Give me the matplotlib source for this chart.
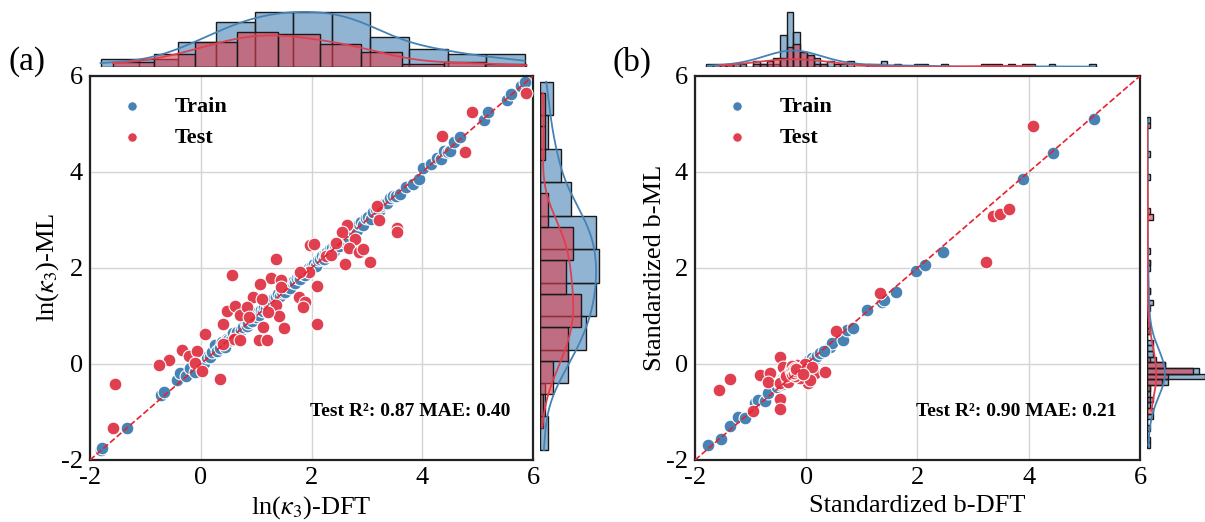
import matplotlib
matplotlib.use("Agg")
import matplotlib.pyplot as plt
import seaborn as sns

plt.rcParams["font.family"] = ["Liberation Serif", "DejaVu Serif"]
plt.rcParams["mathtext.fontset"] = "stix"
plt.rcParams["axes.unicode_minus"] = False

TRAIN_COLOR = "#4682B4"
TEST_COLOR = "#DF3F4F"
LINE_COLOR = "#E8212E"

# ---- panel (a): ln(kappa3) ----
train_a_x = [-1.81, -1.78, -1.34, -0.72, -0.67, -0.43, -0.37, -0.27, -0.19, -0.10, -0.02, 0.05,
             0.11, 0.17, 0.20, 0.26, 0.30, 0.35, 0.38, 0.44, 0.47, 0.50, 0.55, 0.59, 0.63, 0.65, 0.72, 0.77,
             0.81, 0.84, 0.86, 0.90, 0.93, 0.96, 1.00, 1.03, 1.06, 1.09, 1.12, 1.15, 1.18, 1.21, 1.24, 1.27,
             1.30, 1.33, 1.36, 1.40, 1.43, 1.46,
             1.50, 1.53, 1.56, 1.59, 1.62, 1.65, 1.68, 1.71, 1.74, 1.77, 1.80, 1.83, 1.86, 1.89, 1.92, 1.95,
             1.98, 2.01, 2.05, 2.08, 2.11, 2.15,
             2.19, 2.22, 2.25, 2.28, 2.31, 2.34, 2.37, 2.40, 2.43, 2.46, 2.49, 2.52, 2.55, 2.58, 2.61, 2.64,
             2.67, 2.70, 2.73, 2.76, 2.79, 2.81, 2.83, 2.85,
             2.89, 2.93, 2.98, 3.02, 3.07, 3.11, 3.16, 3.21, 3.26, 3.31, 3.36, 3.42, 3.47, 3.52,
             3.60, 3.71, 3.84, 3.95, 4.02, 4.15,
             4.27, 4.33, 4.40, 4.46, 4.51, 4.57, 4.69,
             5.11, 5.18, 5.53, 5.60, 5.78, 5.85]
train_a_y = [-1.79, -1.74, -1.33, -0.65, -0.58, -0.33, -0.19, -0.26, -0.09, -0.16, 0.03, 0.02,
             0.14, 0.14, 0.24, 0.40, 0.28, 0.33, 0.45, 0.36, 0.52, 0.50, 0.49, 0.64, 0.60, 0.67, 0.70, 0.78,
             0.86, 0.80, 0.85, 0.93, 0.89, 1.01, 0.97, 1.08, 1.02, 1.13, 1.10, 1.19, 1.14, 1.26, 1.22, 1.33,
             1.27, 1.37, 1.40, 1.46, 1.41, 1.51,
             1.56, 1.51, 1.60, 1.64, 1.58, 1.70, 1.73, 1.68, 1.79, 1.81, 1.77, 1.87, 1.91, 1.85, 1.96, 1.99,
             1.96, 2.05, 2.09, 2.04, 2.16, 2.19,
             2.24, 2.19, 2.30, 2.33, 2.28, 2.39, 2.41, 2.36, 2.48, 2.52, 2.45, 2.57, 2.62, 2.55, 2.66, 2.71,
             2.63, 2.76, 2.79, 2.72, 2.84, 2.87, 2.79, 2.91,
             2.95, 2.90, 3.04, 3.07, 3.03, 3.16, 3.22, 3.18, 3.30, 3.34, 3.35, 3.45, 3.49, 3.51,
             3.54, 3.68, 3.76, 3.85, 4.08, 4.17,
             4.30, 4.28, 4.43, 4.42, 4.44, 4.63, 4.72,
             5.08, 5.26, 5.51, 5.63, 5.80, 5.88]
test_a_x = [5.88, 4.90, 4.36, 4.78, 3.19, 3.21, 3.55, 3.55, 2.64, 2.55,
            2.79, 2.67, 2.85, 2.93, 3.06, 2.60, 2.27, 1.98, 2.05, 1.96,
            2.10, 2.10, 1.36, 0.56, 1.27, 1.07, 1.45, 1.45, 0.95, 1.10,
            1.36, 1.42, 1.51, 1.12, 1.06, 1.19, 1.77, 1.89, 1.85, 1.80,
            0.47, 0.62, 0.70, 0.84, 0.41, 0.60, 0.71, 0.41, 0.08, -0.34,
            -0.22, -0.07, -0.10, 0.03, 0.35, -0.57, -0.75, -1.55, -1.59,
            0.88, 1.22, 2.35, 2.45]
test_a_y = [5.65, 5.26, 4.75, 4.42, 3.29, 2.99, 2.83, 2.74, 2.90, 2.76,
            2.60, 2.41, 2.34, 2.40, 2.13, 2.08, 2.26, 2.48, 2.49, 1.92,
            1.63, 0.83, 2.19, 1.85, 1.79, 1.66, 1.74, 1.61, 1.40, 1.35,
            1.22, 0.99, 0.74, 0.78, 0.51, 0.51, 1.39, 1.30, 1.19, 1.92,
            1.11, 1.21, 1.03, 1.18, 0.83, 0.53, 0.51, 0.41, 0.62, 0.29,
            0.17, 0.27, 0.03, -0.15, -0.31, 0.08, -0.03, -0.42, -1.33,
            0.98, 1.08, 2.28, 2.52]

# ---- panel (b): standardized b ----
train_b_x = [-1.77, -1.53, -1.37, -1.22, -1.10, -0.93, -0.87, -0.75, -0.68, 0.43, 0.46, 0.66,
             0.74, 0.84, 1.10, 1.36, 1.40, 1.62, 1.98, 2.13, 2.46, 3.89, 4.44, 5.17,
             -0.52, -0.47,
             -0.44, -0.43, -0.42, -0.41, -0.40, -0.39, -0.38, -0.37, -0.37, -0.36, -0.35, -0.35, -0.34,
             -0.33, -0.32, -0.32, -0.31, -0.30, -0.30, -0.29, -0.28, -0.28, -0.27, -0.27, -0.26, -0.25,
             -0.25, -0.24, -0.24, -0.23, -0.23, -0.22, -0.22,
             -0.20, -0.19, -0.18, -0.17, -0.15, -0.14, -0.13, -0.12, -0.11, -0.10,
             -0.07, -0.04, -0.01, 0.02, 0.05, 0.08, 0.11, 0.14, 0.19, 0.25, 0.32]
train_b_y = [-1.69, -1.57, -1.29, -1.10, -1.12, -0.82, -0.75, -0.78, -0.61, 0.36, 0.44, 0.50,
             0.71, 0.76, 1.13, 1.30, 1.33, 1.51, 1.94, 2.06, 2.34, 3.85, 4.39, 5.10,
             -0.48, -0.44,
             -0.38, -0.41, -0.30, -0.36, -0.33, -0.28, -0.35, -0.31, -0.25, -0.29, -0.33, -0.22, -0.27,
             -0.24, -0.30, -0.19, -0.26, -0.22, -0.28, -0.20, -0.25, -0.17, -0.23, -0.21, -0.18, -0.24,
             -0.20, -0.16, -0.22, -0.19, -0.21, -0.18, -0.15,
             -0.19, -0.14, -0.21, -0.12, -0.17, -0.10, -0.15, -0.08, -0.13, -0.06,
             -0.05, -0.09, 0.02, -0.03, 0.08, 0.03, 0.12, 0.09, 0.17, 0.22, 0.28]
test_b_x = [4.07, 3.23, 3.35, 3.49, 3.65, 1.33, 0.53, -0.48, -1.37, -1.56,
            -0.83, -0.65, -0.68, -0.95, -0.48, -0.48, -0.47, -0.41, -0.32, -0.23,
            -0.17, -0.14, -0.08, 0.01, 0.04, 0.10, 0.16, 0.33, -0.11, -0.20,
            -0.29, -0.02, 0.10, 0.07, -0.36, -0.28, -0.27, -0.26, -0.25, -0.24,
            -0.22, -0.21, -0.19, -0.18, -0.05]
test_b_y = [4.96, 2.13, 3.09, 3.12, 3.22, 1.47, 0.69, 0.14, -0.31, -0.54,
            -0.23, -0.19, -0.38, -0.97, -0.73, -0.94, -0.40, -0.06, -0.37, -0.13,
            -0.02, -0.19, -0.09, -0.16, -0.40, -0.23, -0.19, -0.17, -0.30, -0.26,
            -0.16, 0.01, -0.06, -0.33, -0.26, -0.10, -0.15, -0.05, -0.21, -0.12,
            -0.18, -0.08, -0.14, -0.11, -0.20]

ticks = [-2, 0, 2, 4, 6]

W, H = 1205, 522


def px_axes(fig, left, top, right, bottom):
    return fig.add_axes([left / W, 1 - bottom / H, (right - left) / W, (bottom - top) / H])


def marginal(ax, values, color, orient, bins_kw):
    key = "x" if orient == "x" else "y"
    sns.histplot(**{key: values}, ax=ax, color=color, alpha=0.6, edgecolor="#1a1a1a",
                 linewidth=1.0, kde=True, line_kws={"lw": 1.3}, **bins_kw)


def panel(fig, left, right, rleft, rright, tx, ty, vx, vy, bins, xlabel, ylabel, score, tag):
    ax = px_axes(fig, left, 76, right, 460)
    ax_top = px_axes(fig, left, 9, right, 67)
    ax_right = px_axes(fig, rleft, 76, rright, 460)

    # marginal histograms with kde
    marginal(ax_top, tx, TRAIN_COLOR, "x", bins["train_x"])
    marginal(ax_top, vx, TEST_COLOR, "x", bins["test_x"])
    marginal(ax_right, ty, TRAIN_COLOR, "y", bins["train_y"])
    marginal(ax_right, vy, TEST_COLOR, "y", bins["test_y"])
    ax_top.set_xlim(-2, 6)
    ax_right.set_ylim(-2, 6)
    ax_top.axis("off")
    ax_right.axis("off")

    # parity scatter
    ax.scatter(tx, ty, s=85, c=TRAIN_COLOR, edgecolors="white", linewidths=0.8,
               label="Train", zorder=2)
    ax.scatter(vx, vy, s=85, c=TEST_COLOR, edgecolors="white", linewidths=0.8,
               label="Test", zorder=3)
    ax.plot([-2, 6], [-2, 6], ls="--", color=LINE_COLOR, lw=1.2, zorder=4)

    ax.set_xlim(-2, 6)
    ax.set_ylim(-2, 6)
    ax.set_xticks(ticks)
    ax.set_yticks(ticks)
    ax.grid(True, color="#d4d4d4", lw=1.0)
    ax.set_axisbelow(True)
    ax.tick_params(length=0, labelsize=19, pad=5)
    for s in ax.spines.values():
        s.set_linewidth(1.6)
        s.set_color("#222222")
    ax.set_xlabel(xlabel, fontsize=19, labelpad=4)
    ax.set_ylabel(ylabel, fontsize=19, labelpad=0)

    ax.legend(loc="upper left", frameon=False, prop={"weight": "bold", "size": 16},
              markerscale=0.75, handletextpad=0.9)
    ax.text(0.948, 0.125, score, transform=ax.transAxes, ha="right", va="center",
            fontsize=14, fontweight="bold")
    fig.text((left - 82) / W, 1 - 62 / H, tag, fontsize=24, va="center", ha="left")


fig = plt.figure(figsize=(W / 100, H / 100), dpi=100)

bins_a = {"train_x": {"bins": 11}, "test_x": {"bins": 10},
          "train_y": {"bins": 11}, "test_y": {"bins": 10}}
bins_b = {"train_x": {"binwidth": 0.12, "binrange": (-1.8, 5.2)},
          "test_x": {"binwidth": 0.12, "binrange": (-1.8, 5.2)},
          "train_y": {"binwidth": 0.12, "binrange": (-1.75, 5.15)},
          "test_y": {"binwidth": 0.12, "binrange": (-1.75, 5.15)}}

panel(fig, 90, 533, 540, 602, train_a_x, train_a_y, test_a_x, test_a_y, bins_a,
      r"ln($\kappa_3$)-DFT", r"ln($\kappa_3$)-ML", "Test R²: 0.87 MAE: 0.40", "(a)")
panel(fig, 695, 1140, 1147, 1208, train_b_x, train_b_y, test_b_x, test_b_y, bins_b,
      "Standardized b-DFT", "Standardized b-ML", "Test R²: 0.90 MAE: 0.21", "(b)")

fig.savefig("out.png", dpi=100, facecolor="white")
